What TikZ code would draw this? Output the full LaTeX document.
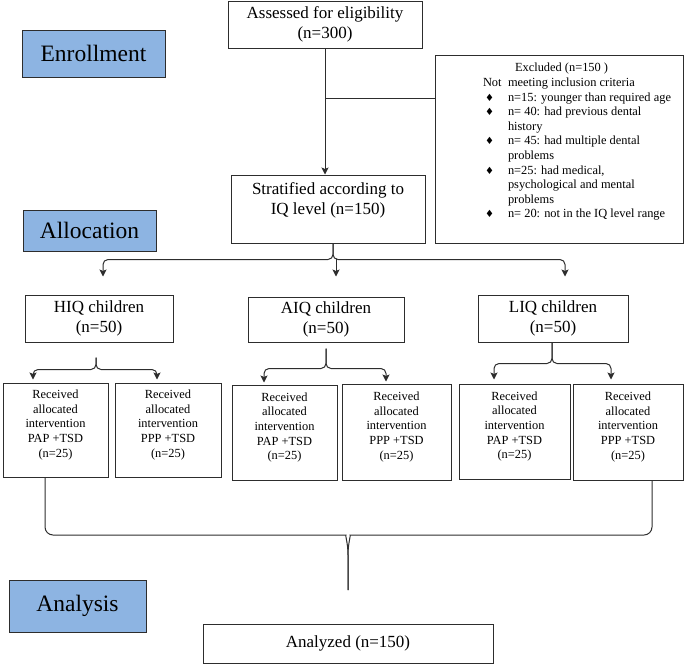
\documentclass[tikz,border=0pt]{standalone}
\usepackage{fontspec}
\setmainfont{Liberation Serif}
\newfontfamily\bulletfont{DejaVu Sans}
\usetikzlibrary{arrows.meta}
\definecolor{phaseblue}{RGB}{141,180,226}
\definecolor{linegray}{RGB}{45,45,45}
\newcommand\boxtext[2]{\raisebox{#1}[\height][\depth]{\begin{tabular}{@{}c@{}}#2\end{tabular}}}
\newcommand\exclbullet{\hspace{2pt}{\bulletfont\fontsize{10}{10}\selectfont ♦}}
\begin{document}
\begin{tikzpicture}[x=1pt,y=-1pt,
		box/.style={draw=linegray, line width=1pt, inner sep=0pt, fill=white},
		phase/.style={box, fill=phaseblue, font=\fontsize{23.5}{28}\selectfont},
		midtext/.style={font=\fontsize{17}{20}\selectfont},
		smalltext/.style={font=\fontsize{12.4}{14.6}\selectfont},
		link/.style={draw=linegray, line width=1pt},
		>={Stealth[length=7pt,width=7pt,inset=1.5pt]}]
	\useasboundingbox (0,0) rectangle (685,665);
	% phases
	\node[phase, minimum width=143, minimum height=47] (enroll) at (93.5,53.5) {Enrollment};
	\node[phase, minimum width=133, minimum height=41] (alloc) at (89.5,230.5) {Allocation};
	\node[phase, minimum width=137, minimum height=52] (analysis) at (77.5,606) {Analysis};
	% enrollment
	\node[box, midtext, minimum width=194, minimum height=47] (assessed) at (325,24.5) {\boxtext{0pt}{Assessed for eligibility\\(n=300)}};
	\node[box, midtext, minimum width=194, minimum height=68] (strat) at (328,209) {\boxtext{9pt}{Stratified according to\\IQ level (n=150)}};
	\node[box, smalltext, minimum width=248, minimum height=188] (excl) at (559,149) {\hspace*{36pt}\raisebox{7pt}[\height][\depth]{\begin{tabular}{@{}l@{\hspace{6.4pt}}l@{}}
				\multicolumn{2}{@{\hspace{32pt}}l@{}}{Excluded (n=150 )}\\
				Not & meeting inclusion criteria\\
				\exclbullet & n=15: younger than required age\\
				\exclbullet & n= 40: had previous dental\\
				& history\\
				\exclbullet & n= 45: had multiple dental\\
				& problems\\
				\exclbullet & n=25: had medical,\\
				& psychological and mental\\
				& problems\\
				\exclbullet & n= 20: not in the IQ level range
	\end{tabular}}};
	% allocation
	\node[box, midtext, minimum width=148, minimum height=47] (hiq) at (99,318.5) {\boxtext{0pt}{HIQ children\\(n=50)}};
	\node[box, midtext, minimum width=156, minimum height=45] (aiq) at (326,319.5) {\boxtext{0pt}{AIQ children\\(n=50)}};
	\node[box, midtext, minimum width=150, minimum height=47] (liq) at (553,318.5) {\boxtext{0pt}{LIQ children\\(n=50)}};
	\node[box, smalltext, minimum width=105, minimum height=94] (r1) at (55.5,430) {\boxtext{5pt}{Received\\allocated\\intervention\\PAP +TSD\\(n=25)}};
	\node[box, smalltext, minimum width=106, minimum height=94] (r2) at (168,430) {\boxtext{5pt}{Received\\allocated\\intervention\\PPP +TSD\\(n=25)}};
	\node[box, smalltext, minimum width=105, minimum height=95] (r3) at (284.5,432.5) {\boxtext{5pt}{Received\\allocated\\intervention\\PAP +TSD\\(n=25)}};
	\node[box, smalltext, minimum width=109, minimum height=96] (r4) at (396.5,432) {\boxtext{5pt}{Received\\allocated\\intervention\\PPP +TSD\\(n=25)}};
	\node[box, smalltext, minimum width=111, minimum height=95] (r5) at (514.5,431.5) {\boxtext{5pt}{Received\\allocated\\intervention\\PAP +TSD\\(n=25)}};
	\node[box, smalltext, minimum width=110, minimum height=96] (r6) at (628,432) {\boxtext{5pt}{Received\\allocated\\intervention\\PPP +TSD\\(n=25)}};
	% analysis
	\node[box, midtext, minimum width=290, minimum height=39] (analyzed) at (348,643.5) {Analyzed (n=150)};
	% connectors
	\draw[link,->] (assessed.south) -- (assessed.south |- strat.north);
	\coordinate (exclbranch) at ([yshift=-50pt]assessed.south);
	\draw[link] (exclbranch) -- (exclbranch -| excl.west);
	\coordinate (strattip) at ([xshift=5pt]strat.south);
	\draw[link,->,rounded corners=5pt,shorten >=18pt] (strattip) -- ++(0,16) -| ([xshift=4pt]hiq.north);
	\draw[link,->,rounded corners=5pt,shorten >=18pt] (strattip) -- ++(0,16) -| ([xshift=12pt]liq.north);
	\draw[link,->] ([xshift=10pt,yshift=38pt]aiq.north) -- ([xshift=10pt,yshift=20pt]aiq.north);
	\coordinate (hiqtip) at ([xshift=-3pt,yshift=-15pt]hiq.south);
	\draw[link,->,rounded corners=5pt,shorten >=3pt] (hiqtip) -- ++(0,12) -| ([xshift=-22.5pt]r1.north);
	\draw[link,->,rounded corners=5pt,shorten >=3pt] (hiqtip) -- ++(0,12) -| ([xshift=-11pt]r2.north);
	\coordinate (aiqtip) at ([yshift=-6pt]aiq.south);
	\draw[link,->,rounded corners=5pt,shorten >=2pt] (aiqtip) -- ++(0,20) -| ([xshift=-20.5pt]r3.north);
	\draw[link,->,rounded corners=5pt,shorten >=2pt] (aiqtip) -- ++(0,20) -| ([xshift=-10.5pt]r4.north);
	\coordinate (liqtip) at ([xshift=-1pt]liq.south);
	\draw[link,->,rounded corners=5pt,shorten >=4pt] (liqtip) -- ++(0,21) -| ([xshift=-20.5pt]r5.north);
	\draw[link,->,rounded corners=5pt,shorten >=4pt] (liqtip) -- ++(0,21) -| ([xshift=-17pt]r6.north);
	\coordinate (analysistip) at (348,590);
	\draw[link,rounded corners=8pt] ([xshift=-10.5pt]r1.south) |- (338,535) .. controls (345,535) and (348,543) .. (348,563) -- (analysistip);
	\draw[link,rounded corners=8pt] ([xshift=24pt]r6.south) |- (358,535) .. controls (351,535) and (348,543) .. (348,563) -- (analysistip);
\end{tikzpicture}
\end{document}
